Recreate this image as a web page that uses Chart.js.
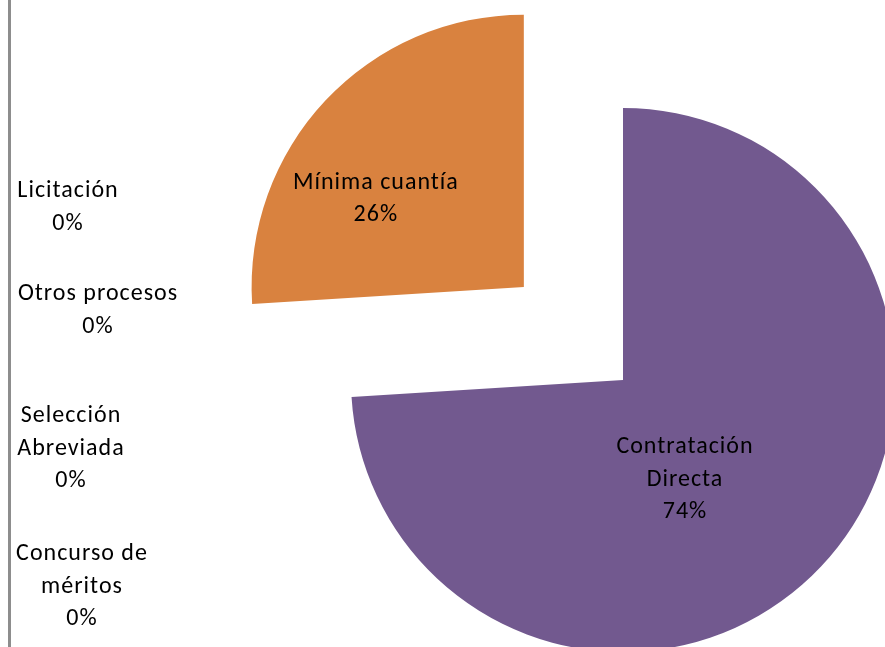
<!DOCTYPE html>
<html lang="es">
<head>
<meta charset="utf-8">
<title>Modalidades de contratación</title>
<script src="https://cdn.jsdelivr.net/npm/chart.js@4/dist/chart.umd.min.js"></script>
<style>
  html,body{margin:0;padding:0;background:#fff;overflow:hidden}
  .wrap{position:relative;width:885px;height:647px}
  .rule{position:absolute;left:8px;top:0;bottom:0;width:3px;background:#8d8d8d}
  canvas{display:block}
</style>
</head>
<body>
<div class="wrap">
  <div class="rule"></div>
  <canvas id="pie" width="885" height="647"></canvas>
</div>
<script>
/* ====== DATA ====== */
const CATEGORIAS = [['Contratación','Directa'], ['Mínima cuantía'], ['Licitación'], ['Otros procesos'], ['Selección','Abreviada'], ['Concurso de','méritos']];
const PORCENTAJES = [74, 26, 0, 0, 0, 0];

/* ====== ESTILO ====== */
const COLORES = ['#72598f', '#d9823f', '#4f81bd', '#c0504d', '#9bbb59', '#4bacc6'];
const FONT = '24px Carlito, Calibri, Lato, sans-serif';
const LINE_H = 32.5;
// etiqueta dentro de la porción: desplazamiento desde el vértice hasta la primera línea base
const LABEL_IN = {0:{dx:62, dy:73}, 1:{dx:-148, dy:-98}};
// etiquetas de 0% en la columna izquierda (centro x, primera línea base)
const LABEL_OUT = [{x:68,y:197},{x:98,y:300},{x:71,y:422},{x:82,y:560}];

/* ====== PLUGIN: etiquetas ====== */
const etiquetas = {
  id:'etiquetas',
  afterDatasetsDraw(chart){
    const ctx=chart.ctx, meta=chart.getDatasetMeta(0), data=chart.data.datasets[0].data;
    const total=data.reduce((a,b)=>a+b,0);
    ctx.save();
    ctx.font=FONT; ctx.fillStyle='#000'; ctx.textAlign='center'; ctx.textBaseline='alphabetic';
    if('letterSpacing' in ctx) ctx.letterSpacing='1px';
    let k=0;
    meta.data.forEach((arc,i)=>{
      const lines=[...chart.data.labels[i], Math.round(data[i]/total*100)+'%'];
      let x,y;
      if(data[i]>0){
        // ArcElement traslada la porción offset/4 sobre su ángulo medio
        const {x:cx,y:cy,startAngle,endAngle}=arc;
        const mid=(startAngle+endAngle)/2, t=(arc.options.offset||0)/4;
        x=cx+Math.cos(mid)*t+LABEL_IN[i].dx;
        y=cy+Math.sin(mid)*t+LABEL_IN[i].dy;
      }else{
        ({x,y}=LABEL_OUT[k++]);
      }
      lines.forEach((s,j)=>ctx.fillText(s,x,y+j*LINE_H));
    });
    ctx.restore();
  }
};

/* ====== CHART ====== */
new Chart(document.getElementById('pie'),{
  type:'pie',
  data:{
    labels:CATEGORIAS,
    datasets:[{
      data:PORCENTAJES,
      backgroundColor:COLORES,
      borderWidth:0,
      radius:272,
      cutout:'0%',            // string: evita 0/0 cuando el offset supera el área
      offset:c=>c.dataIndex===1?544:0,
      clip:false
    }]
  },
  options:{
    responsive:false,
    animation:false,
    events:[],
    layout:{padding:{left:361,top:113,right:0,bottom:0}},
    plugins:{legend:{display:false},tooltip:{enabled:false}}
  },
  plugins:[etiquetas]
});
</script>
</body>
</html>
